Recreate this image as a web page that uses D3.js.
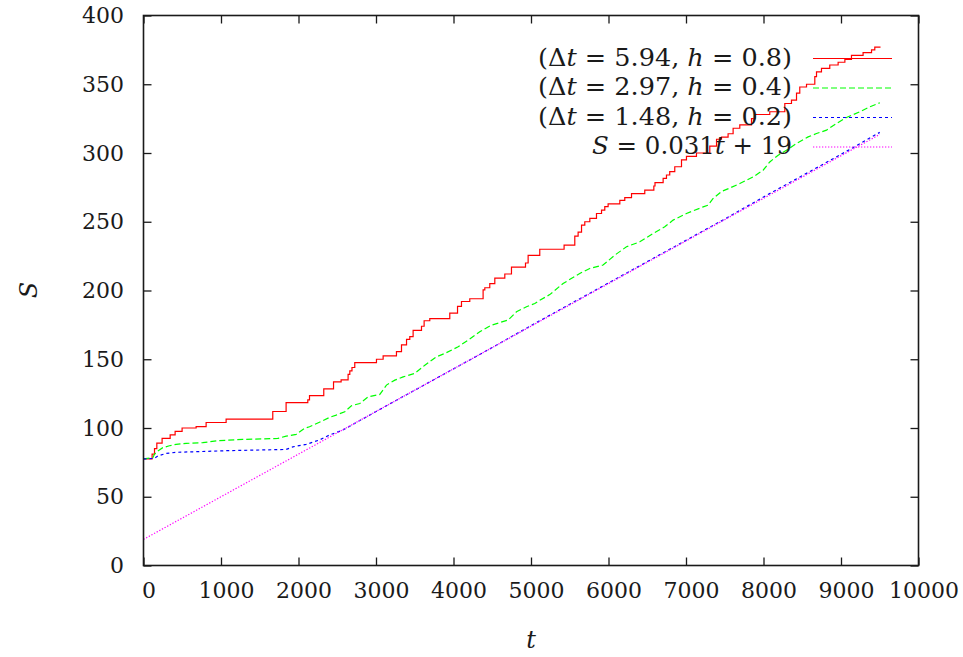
<!DOCTYPE html>
<html>
<head>
<meta charset="utf-8">
<script src="https://cdn.jsdelivr.net/npm/d3@7"></script>
<style>
  html, body { margin: 0; padding: 0; background: #fff; }
  svg { display: block; }
</style>
</head>
<body>
<svg id="chart" width="963" height="657"></svg>
<script>
// Run with time step 5.94, h = 0.8 (stepwise growth of S)
const redT = [0, 111, 142, 172, 240, 344, 408, 498, 679, 808, 1066, 1668, 1840, 2120, 2142, 2326, 2452, 2550,
  2640, 2662, 2690, 2726, 3006, 3092, 3264, 3329, 3394, 3436, 3479, 3587, 3621, 3694, 3952, 4052, 4103, 4210,
  4382, 4404, 4468, 4533, 4662, 4748, 4929, 4963, 5113, 5427, 5565, 5608, 5652, 5694, 5759, 5845, 5910, 5952,
  5995, 6146, 6210, 6297, 6468, 6585, 6600, 6705, 6748, 6790, 6855, 6942, 7006, 7135, 7307, 7394, 7458, 7543,
  7608, 7694, 7845, 7888, 8081, 8275, 8361, 8426, 8468, 8555, 8662, 8684, 8748, 8855, 8963, 9050, 9135, 9285,
  9394, 9436, 9510];
const redS = [77.5, 81, 85, 89, 92.5, 95, 97.5, 100, 101, 104, 106.5, 112, 118.5, 120.5, 123.5, 128.5, 133.5, 135,
  139, 141.5, 144, 147.5, 150, 152.5, 155.5, 160.5, 164.5, 166.5, 171, 174, 178, 179.5, 183.5, 188.5, 192, 194,
  200.5, 202, 205, 209, 212, 217, 220, 225.5, 230, 233, 239.5, 242.5, 247.5, 250, 252.5, 256, 258.5, 261,
  263, 265.5, 267.5, 270.5, 273, 276, 278.5, 281.5, 284, 286.5, 290, 295, 297.5, 300, 305, 310, 311.5, 314,
  318, 320.5, 325, 328, 330, 336, 338.5, 343.5, 348, 350, 355.5, 359, 361.5, 364, 366, 368, 371, 373,
  375, 377, 377];

// Run with time step 2.97, h = 0.4
const greenT = [0, 120, 141, 184, 249, 335, 421, 550, 765, 959, 1281, 1733, 1841, 1970, 2078, 2142, 2314, 2400,
  2486, 2597, 2683, 2791, 2898, 3049, 3135, 3243, 3350, 3501, 3630, 3780, 3888, 4060, 4189, 4339, 4490, 4705,
  4813, 4942, 5049, 5113, 5242, 5414, 5629, 5758, 5930, 6081, 6232, 6404, 6576, 6726, 6834, 7006, 7221, 7286,
  7350, 7458, 7565, 7694, 7866, 7995, 8081, 8189, 8296, 8425, 8576, 8684, 8813, 8942, 9071, 9243, 9372, 9501];
const greenS = [77.5, 78.4, 80.9, 83.3, 85.7, 87.1, 88.1, 88.8, 89.3, 90.8, 91.7, 92.4, 94.1, 95.3, 99.7, 100.9, 105.3, 107.7,
  109.4, 111.8, 116.2, 117.8, 122.7, 124.4, 131.2, 134.8, 137.2, 139.7, 145.7, 151.8, 154.2, 159.1, 163.9, 170, 174.8, 178.5,
  184.5, 188.2, 190.5, 192.9, 197, 205.1, 212.4, 216, 218.5, 225.7, 231.8, 235.4, 241.5, 246.3, 251.2, 256, 260.8, 262.1,
  266.9, 272, 274.5, 277.8, 282.6, 287.5, 293.5, 298.4, 302, 306.9, 311.7, 314.2, 316.6, 321.5, 325.8, 330, 333.6, 336.5];

// Run with time step 1.48, h = 0.2
const blueT = [0, 141, 184, 292, 421, 636, 1066, 1496, 1841, 1927, 2099, 2271, 2400, 2572, 3000, 3500, 4000, 4500,
  5000, 5500, 6000, 6500, 7000, 7500, 8000, 8500, 9000, 9500];
const blueS = [77.5, 77.9, 79.6, 81.5, 82.3, 82.7, 83.5, 84, 84.4, 86.3, 88.1, 91.3, 94.9, 98.5, 112, 127.5, 143, 158.5,
  174.5, 190, 205.5, 221, 236.5, 252, 268, 283.5, 299, 315];

// Linear fit S = 0.031 t + 19
const fitSlope = 0.031;
const fitIntercept = 19;
const fitT = [0, 9500];

const xTicks = [0, 1000, 2000, 3000, 4000, 5000, 6000, 7000, 8000, 9000, 10000];
const yTicks = [0, 50, 100, 150, 200, 250, 300, 350, 400];

const FONT = "'DejaVu Serif', 'Liberation Serif', serif";
const INK = "#1a1a1a";

const svg = d3.select("#chart");
const plotLeft = 143.5, plotRight = 918.5, plotTop = 15.5, plotBottom = 565.5;

const x = d3.scaleLinear().domain([0, 10000]).range([plotLeft, plotRight]);
const y = d3.scaleLinear().domain([0, 400]).range([plotBottom, plotTop]);

const zip = (ts, ss) => ts.map((t, i) => [t, ss[i]]);
const lineStep = d3.line().x(d => x(d[0])).y(d => y(d[1])).curve(d3.curveStepAfter);
const lineLin = d3.line().x(d => x(d[0])).y(d => y(d[1]));

const series = [
  { label: [["(Δ", false], ["t", true], [" = 5.94, ", false], ["h", true], [" = 0.8)", false]], len: 254,
    data: zip(redT, redS), gen: lineStep, color: "#ff0000", dash: null, width: 1.2 },
  { label: [["(Δ", false], ["t", true], [" = 2.97, ", false], ["h", true], [" = 0.4)", false]], len: 254,
    data: zip(greenT, greenS), gen: lineLin, color: "#00ff00", dash: "6,3", width: 1.2 },
  { label: [["(Δ", false], ["t", true], [" = 1.48, ", false], ["h", true], [" = 0.2)", false]], len: 254,
    data: zip(blueT, blueS), gen: lineLin, color: "#0000ff", dash: "3,3", width: 1.2 },
  { label: [["S", true], [" = 0.031", false], ["t", true], [" + 19", false]], len: 200,
    data: fitT.map(t => [t, fitSlope * t + fitIntercept]), gen: lineLin, color: "#ff00ff", dash: "1.3,1.7", width: 1.2 }
];

const styleText = sel => sel.style("font-family", FONT).style("font-size", "22px").style("fill", INK);

// Axes: inward ticks on all four sides, labels on bottom and left
const tickLen = 8;
svg.append("g").attr("transform", `translate(0,${plotBottom})`)
  .call(d3.axisBottom(x).tickValues(xTicks).tickSize(-tickLen).tickPadding(17).tickFormat(d3.format("d")))
  .call(g => g.select(".domain").remove())
  .call(g => g.selectAll("text").attr("dx", 5).call(styleText));
svg.append("g").attr("transform", `translate(0,${plotTop})`)
  .call(d3.axisTop(x).tickValues(xTicks).tickSize(-tickLen).tickFormat(""))
  .call(g => g.select(".domain").remove());
svg.append("g").attr("transform", `translate(${plotLeft},0)`)
  .call(d3.axisLeft(y).tickValues(yTicks).tickSize(-tickLen).tickPadding(19.5).tickFormat(d3.format("d")))
  .call(g => g.select(".domain").remove())
  .call(g => g.selectAll("text").call(styleText));
svg.append("g").attr("transform", `translate(${plotRight},0)`)
  .call(d3.axisRight(y).tickValues(yTicks).tickSize(-tickLen).tickFormat(""))
  .call(g => g.select(".domain").remove());
svg.selectAll(".tick line").attr("stroke", INK).attr("stroke-width", 1.3);

// Curves
svg.append("g").selectAll("path").data(series).join("path")
  .attr("d", s => s.gen(s.data))
  .attr("fill", "none")
  .attr("stroke", s => s.color)
  .attr("stroke-width", s => s.width)
  .attr("stroke-dasharray", s => s.dash);

// Frame
svg.append("rect").attr("x", plotLeft).attr("y", plotTop)
  .attr("width", plotRight - plotLeft).attr("height", plotBottom - plotTop)
  .attr("fill", "none").attr("stroke", INK).attr("stroke-width", 1.6);

// Key
const keyTextX = 792, keyLineX0 = 813, keyLineX1 = 892, keyY0 = 58.5, keyStep = 29.5;
const key = svg.append("g");
series.forEach((s, i) => {
  const yy = keyY0 + i * keyStep;
  const t = key.append("text").attr("x", keyTextX).attr("y", yy + 7).attr("text-anchor", "end")
    .attr("textLength", s.len).attr("lengthAdjust", "spacingAndGlyphs")
    .call(styleText).style("font-size", "24px");
  s.label.forEach(([str, it]) => t.append("tspan").text(str).style("font-style", it ? "italic" : "normal"));
  key.append("line").attr("x1", keyLineX0).attr("x2", keyLineX1).attr("y1", yy).attr("y2", yy)
    .attr("stroke", s.color).attr("stroke-width", s.width).attr("stroke-dasharray", s.dash);
});

// Axis titles
svg.append("text").attr("x", (plotLeft + plotRight) / 2).attr("y", 648).attr("text-anchor", "middle")
  .call(styleText).style("font-size", "24px").style("font-style", "italic").text("t");
svg.append("text").attr("transform", "translate(37,290) rotate(-90)").attr("text-anchor", "middle")
  .call(styleText).style("font-size", "24px").style("font-style", "italic").text("S");
</script>
</body>
</html>
